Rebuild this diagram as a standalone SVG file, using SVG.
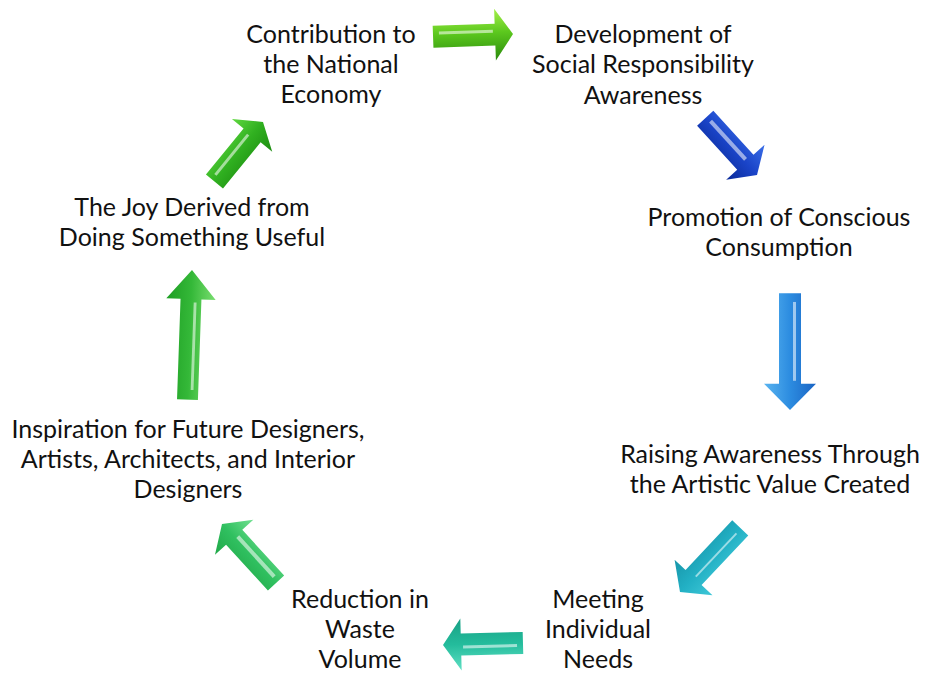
<svg xmlns="http://www.w3.org/2000/svg" width="931" height="677" viewBox="0 0 931 677">
<style>
text{font-family:Lato,"Liberation Sans",sans-serif;font-size:25px;fill:#111;text-anchor:middle}
.hl{fill:#ffffff;opacity:0.55}
</style>
<defs>
<path id="arr" d="M-80,-11 L-18,-11 L-18,-26 L0,0 L-18,26 L-18,11 L-80,11 Z"/>
<linearGradient id="g1" x1="0" y1="0" x2="0" y2="1"><stop offset="0" stop-color="#a6f04a"/><stop offset="0.45" stop-color="#5cc81e"/><stop offset="1" stop-color="#2a8a0c"/></linearGradient>
<linearGradient id="g2" x1="0" y1="0" x2="0" y2="1"><stop offset="0" stop-color="#3a6ee8"/><stop offset="0.5" stop-color="#1a44c8"/><stop offset="1" stop-color="#0a2a98"/></linearGradient>
<linearGradient id="g3" x1="0" y1="0" x2="0" y2="1"><stop offset="0" stop-color="#1a64c4"/><stop offset="0.5" stop-color="#2c8ce0"/><stop offset="1" stop-color="#5ab4f0"/></linearGradient>
<linearGradient id="g4" x1="0" y1="0" x2="0" y2="1"><stop offset="0" stop-color="#40c8d8"/><stop offset="0.5" stop-color="#22b0c4"/><stop offset="1" stop-color="#1896aa"/></linearGradient>
<linearGradient id="g5" x1="0" y1="0" x2="0" y2="1"><stop offset="0" stop-color="#60e0c4"/><stop offset="0.5" stop-color="#24bc9c"/><stop offset="1" stop-color="#18a084"/></linearGradient>
<linearGradient id="g6" x1="0" y1="0" x2="0" y2="1"><stop offset="0" stop-color="#20a848"/><stop offset="0.5" stop-color="#30c060"/><stop offset="1" stop-color="#70e090"/></linearGradient>
<linearGradient id="g7" x1="0" y1="0" x2="0" y2="1"><stop offset="0" stop-color="#1e9e24"/><stop offset="0.5" stop-color="#34b838"/><stop offset="1" stop-color="#7ade70"/></linearGradient>
<linearGradient id="g8" x1="0" y1="0" x2="0" y2="1"><stop offset="0" stop-color="#60d840"/><stop offset="0.5" stop-color="#30b020"/><stop offset="1" stop-color="#1c8c10"/></linearGradient>
</defs>
<g id="connectors">
<g transform="translate(513,34) rotate(-2)"><use href="#arr" fill="url(#g1)"/><rect class="hl" x="-74" y="-5" width="54" height="3"/></g>
<g transform="translate(757,175) rotate(47.6) scale(0.96,1)"><use href="#arr" fill="url(#g2)"/><rect class="hl" x="-74" y="-4" width="54" height="4"/></g>
<g transform="translate(790,410) rotate(90) scale(1.46,1)"><use href="#arr" fill="url(#g3)"/><rect class="hl" x="-74" y="-6" width="54" height="3"/></g>
<g transform="translate(680,592) rotate(133.2) scale(1.1,1)"><use href="#arr" fill="url(#g4)"/><rect class="hl" x="-74" y="-2" width="54" height="2"/></g>
<g transform="translate(443,645) rotate(178.5)"><use href="#arr" fill="url(#g5)"/><rect class="hl" x="-74" y="-4" width="54" height="3"/></g>
<g transform="translate(222,524) rotate(-132.5)"><use href="#arr" fill="url(#g6)"/><rect class="hl" x="-74" y="1" width="54" height="4"/></g>
<g transform="translate(192,270) rotate(-88) scale(1.62,0.95)"><use href="#arr" fill="url(#g7)"/><rect class="hl" x="-74" y="3" width="54" height="3"/></g>
<g transform="translate(263,122) rotate(-50.8) scale(0.96,1)"><use href="#arr" fill="url(#g8)"/><rect class="hl" x="-74" y="-5" width="54" height="3"/></g>
</g>
<g id="n1"><text x="331" y="43">Contribution to</text><text x="331" y="73">the National</text><text x="331" y="103">Economy</text></g>
<g id="n2"><text x="643" y="43">Development of</text><text x="643" y="73">Social Responsibility</text><text x="643" y="104">Awareness</text></g>
<g id="n3"><text x="779" y="226">Promotion of Conscious</text><text x="779" y="256">Consumption</text></g>
<g id="n4"><text x="770" y="463">Raising Awareness Through</text><text x="770" y="493">the Artistic Value Created</text></g>
<g id="n5"><text x="598" y="608">Meeting</text><text x="598" y="638">Individual</text><text x="598" y="668">Needs</text></g>
<g id="n6"><text x="360" y="608">Reduction in</text><text x="360" y="638">Waste</text><text x="360" y="668">Volume</text></g>
<g id="n7"><text x="188" y="438">Inspiration for Future Designers,</text><text x="188" y="468">Artists, Architects, and Interior</text><text x="188" y="498">Designers</text></g>
<g id="n8"><text x="192" y="216">The Joy Derived from</text><text x="192" y="246">Doing Something Useful</text></g>
</svg>
